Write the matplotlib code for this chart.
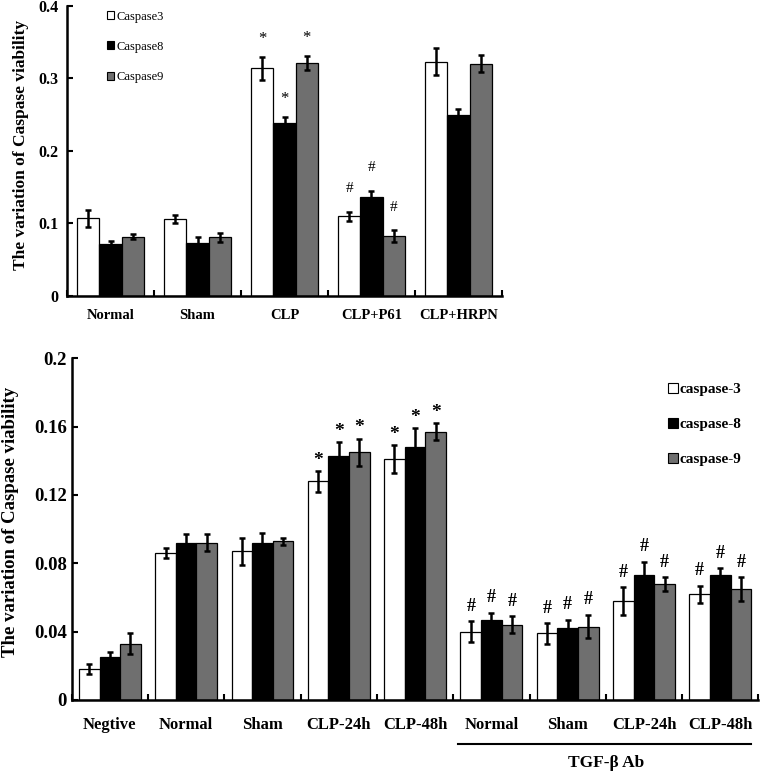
import matplotlib
matplotlib.use("Agg")
import matplotlib.pyplot as plt
import numpy as np
from matplotlib.patches import Rectangle

plt.rcParams['font.family'] = ['Liberation Serif', 'DejaVu Serif']

# ---------- Top panel data ----------
top_groups = ["Normal", "Sham", "CLP", "CLP+P61", "CLP+HRPN"]
top_series = ["Caspase3", "Caspase8", "Caspase9"]
top_c3 = [0.107, 0.106, 0.314, 0.110, 0.323]
top_c8 = [0.072, 0.073, 0.239, 0.136, 0.249]
top_c9 = [0.082, 0.081, 0.321, 0.083, 0.320]
top_e3 = [0.012, 0.006, 0.016, 0.006, 0.019]
top_e8 = [0.004, 0.009, 0.008, 0.009, 0.009]
top_e9 = [0.003, 0.006, 0.010, 0.008, 0.012]
top_marks3 = ["", "", "*", "#", ""]
top_marks8 = ["", "", "*", "#", ""]
top_marks9 = ["", "", "*", "#", ""]
top_yticks = [0, 0.1, 0.2, 0.3, 0.4]
top_yticklabels = ["0", "0.1", "0.2", "0.3", "0.4"]

# ---------- Bottom panel data ----------
bot_groups = ["Negtive", "Normal", "Sham", "CLP-24h", "CLP-48h",
              "Normal", "Sham", "CLP-24h", "CLP-48h"]
bot_series = ["caspase-3", "caspase-8", "caspase-9"]
bot_c3 = [0.018, 0.086, 0.087, 0.128, 0.141, 0.040, 0.039, 0.058, 0.062]
bot_c8 = [0.025, 0.092, 0.092, 0.143, 0.148, 0.047, 0.042, 0.073, 0.073]
bot_c9 = [0.033, 0.092, 0.093, 0.145, 0.157, 0.044, 0.043, 0.068, 0.065]
bot_e3 = [0.003, 0.003, 0.008, 0.006, 0.008, 0.006, 0.006, 0.008, 0.005]
bot_e8 = [0.003, 0.005, 0.006, 0.008, 0.011, 0.004, 0.005, 0.008, 0.004]
bot_e9 = [0.006, 0.005, 0.002, 0.008, 0.005, 0.005, 0.007, 0.004, 0.007]
bot_marks = ["", "", "", "*", "*", "#", "#", "#", "#"]
bot_yticks = [0, 0.04, 0.08, 0.12, 0.16, 0.2]
bot_yticklabels = ["0", "0.04", "0.08", "0.12", "0.16", "0.2"]
group_label = "TGF-\u03b2 Ab"

colors = ["white", "black", "#6f6f6f"]

fig = plt.figure(figsize=(7.6, 7.71), dpi=100)


def draw_panel(ax, groups, vals, errs, marks, yticks, yticklabels, ymax,
               bw, xtick_fs, ytick_fs, ylab_fs, mark_fs, star_off, hash_off,
               mark_weight, xpad, ypad):
    n = len(groups)
    x = np.arange(n) + 0.5
    for i, (v, e, c) in enumerate(zip(vals, errs, colors)):
        pos = x + (i - 1) * bw
        ax.bar(pos, v, width=bw, color=c, edgecolor="black", linewidth=0.9,
               zorder=2)
        ax.errorbar(pos, v, yerr=e, fmt="none", ecolor="black", elinewidth=1.8,
                    capsize=2.5, capthick=1.8, zorder=3)
        for j in range(n):
            m = marks[i][j]
            if m:
                off = star_off if m == "*" else hash_off
                ax.annotate(m, xy=(pos[j], v[j] + e[j]), xytext=(0, off),
                            textcoords="offset points", ha="center",
                            va="baseline", fontsize=mark_fs[m],
                            fontweight=mark_weight)
    ax.set_xlim(0, n)
    ax.set_ylim(0, ymax)
    ax.set_yticks(yticks)
    ax.set_yticklabels(yticklabels, fontsize=ytick_fs, fontweight="bold")
    ax.set_xticks(np.arange(n + 1))
    ax.set_xticklabels([])
    ax.set_xticks(x, minor=True)
    ax.set_xticklabels(groups, minor=True, fontsize=xtick_fs, fontweight="bold")
    ax.tick_params(axis="x", which="minor", length=0, pad=xpad)
    ax.tick_params(axis="x", which="major", direction="in", length=4, width=1.5)
    ax.tick_params(axis="y", direction="in", length=4, width=1.5, pad=ypad)
    ax.spines["top"].set_visible(False)
    ax.spines["right"].set_visible(False)
    ax.spines["left"].set_linewidth(1.8)
    ax.spines["bottom"].set_linewidth(1.8)
    ax.set_ylabel("The variation of Caspase viability", fontsize=ylab_fs,
                  fontweight="bold")
    ax.yaxis.label.set_verticalalignment("baseline")


# Top panel
ax1 = fig.add_axes([0.0882, 0.616, 0.5723, 0.3766])
draw_panel(ax1, top_groups, [top_c3, top_c8, top_c9], [top_e3, top_e8, top_e9],
           [top_marks3, top_marks8, top_marks9], top_yticks, top_yticklabels,
           0.4, 0.256, 10.5, 11.5, 12.5, {"*": 12, "#": 11}, 10, 14, "normal",
           9.5, 6)
ax1.yaxis.set_label_coords(-0.097, 0.52)
h1 = [Rectangle((0, 0), 1, 1, facecolor=c, edgecolor="black", linewidth=0.8)
      for c in colors]
ax1.legend(h1, top_series, loc="upper left", bbox_to_anchor=(0.08, 1.0),
           frameon=False, handlelength=0.6, handleheight=0.6,
           handletextpad=0.15, labelspacing=1.45, borderaxespad=0,
           prop={"size": 9})

# Bottom panel
ax2 = fig.add_axes([0.0943, 0.0921, 0.9037, 0.4432])
draw_panel(ax2, bot_groups, [bot_c3, bot_c8, bot_c9], [bot_e3, bot_e8, bot_e9],
           [bot_marks, bot_marks, bot_marks], bot_yticks, bot_yticklabels,
           0.2, 0.27, 12, 13.5, 13.5, {"*": 14, "#": 13}, 4.5, 7.5, "bold",
           12, 3.5)
ax2.yaxis.set_label_coords(-0.0825, 0.52)
h2 = [Rectangle((0, 0), 1, 1, facecolor=c, edgecolor="black", linewidth=0.8)
      for c in colors]
ax2.legend(h2, bot_series, loc="upper left", bbox_to_anchor=(0.86, 0.945),
           frameon=False, handlelength=0.6, handleheight=0.6,
           handletextpad=0.15, labelspacing=1.42, borderaxespad=0,
           prop={"weight": "bold", "size": 11})

# TGF-beta Ab bracket line under last four groups
line_y = -0.1275
ax2.plot([5.06, 8.9], [line_y * 0.2, line_y * 0.2], color="black", lw=1.5,
         clip_on=False, transform=ax2.transData)
ax2.text(7.0, -0.0366, group_label, ha="center", va="center", fontsize=12.5,
         fontweight="bold")

fig.savefig("out.png", dpi=100)
